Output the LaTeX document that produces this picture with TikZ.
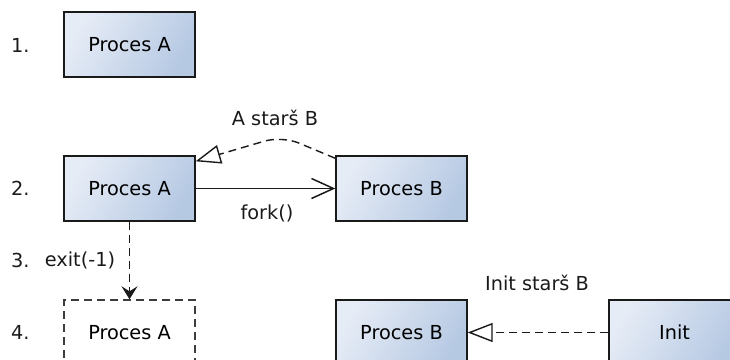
\documentclass[tikz,border=0pt]{standalone}
\usepackage{fontspec}
\setmainfont{DejaVu Sans}
\usetikzlibrary{arrows.meta}
\definecolor{boxlight}{HTML}{E6ECF6}
\definecolor{boxdark}{HTML}{B6C9E3}
\definecolor{ink}{HTML}{1A1A1A}
\tikzset{
  proc/.style={draw=ink, line width=1.4bp, minimum width=131bp, minimum height=65bp,
    left color=boxlight, right color=boxdark, shading angle=60, inner sep=0pt},
  ghost/.style={draw=ink!85, line width=1.4bp, dash pattern=on 8bp off 5bp,
    minimum width=131bp, minimum height=65bp, fill=white, inner sep=0pt},
  lbl/.style={inner sep=0pt, text=ink},
  num/.style={lbl, anchor=west},
  conn/.style={draw=ink, line width=1.4bp},
  dconn/.style={conn, dash pattern=on 8bp off 5bp},
  opentri/.style={-{Triangle[open, length=25bp, width=19bp, line width=1.4bp, fill=white]}},
}
\begin{document}
\begin{tikzpicture}[x=1bp, y=-1bp, font=\fontsize{19.3bp}{23bp}\selectfont]
\path[use as bounding box, clip] (0,0) rectangle (730,359);

% step labels
\node[num] (n1) at (11,45)  {1.};
\node[num] (n2) at (11,188) {2.};
\node[num] (n3) at (11,260) {3.};
\node[num] (n4) at (11,332) {4.};

% row 1
\node[proc] (a1) at (129.5,44.5) {Proces A};

% row 2
\node[proc] (a2) at (129.5,188.5) {Proces A};
\node[proc] (b2) at (401.5,188.5) {Proces B};

% row 4
\node[ghost] (a4) at (129.5,332.5) {Proces A};
\node[proc] (b4) at (401.5,332.5) {Proces B};
\node[proc] (init) at (674.5,332.5) {Init};

% fork
\draw[conn, -{Straight Barb[length=22bp, width=20bp, line width=1.5bp]}] (a2.east) -- (b2.west);
\node[lbl] (fork) at (267,213) {fork()};

% parent relation A -> B
\coordinate (apex) at (282,136);
\draw[dconn, rounded corners=18bp, opentri]
  ([yshift=-3bp]b2.north west) -- (apex) -- ([yshift=-6bp]a2.north east);
\node[lbl] (par1) at (275,118) {A starš B};

% exit
\draw[dconn, -{Stealth[length=13bp, width=16bp, inset=5bp]}] (a2.south) -- (a4.north);
\node[lbl] (exitl) at (80,260) {exit(-1)};

% parent relation Init -> B
\draw[dconn, opentri] (init.west) -- (b4.east);
\node[lbl] (par2) at (537,283) {Init starš B};
\end{tikzpicture}
\end{document}
